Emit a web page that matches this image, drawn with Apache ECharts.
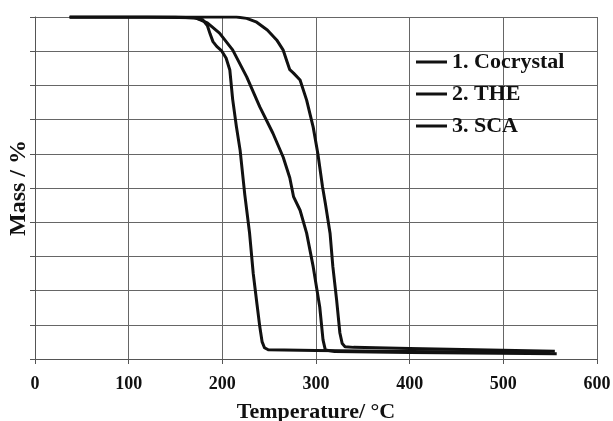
<!DOCTYPE html>
<html>
<head>
<meta charset="UTF-8">
<title></title>
</head>
<body style="margin:0;background:#fff;">
<div id="main" style="width:613px;height:421px;"></div>
<script src="https://cdn.jsdelivr.net/npm/echarts@6/dist/echarts.min.js"></script>
<script>
// TGA curves, [temperature C, mass %]
var names = ['1. Cocrystal', '2. THE', '3. SCA'];
var cocrystal = [[37,100],[150,100],[172,99.7],[184,98.3],[197,95.3],[211,90.4],[226,82.5],[240,73.7],[254,66],[265,59],[272,53],[276,47.5],[283,43.5],[290,36.8],[297,27],[304,15.2],[307.5,5.6],[310,2.6],[320,2.2],[400,1.9],[557,1.5]];
var the = [[37,100],[215,100],[226,99.6],[236,98.6],[248,96.2],[258,93.3],[265,90.3],[269,87],[272,84.6],[276,83.6],[283,81.6],[290,75.7],[297,67.8],[302,60],[307,50.3],[310,45.5],[315,36.8],[318,27],[322,17.3],[325.5,7.6],[328,4.5],[331,3.6],[340,3.4],[400,3.1],[555,2.3]];
var sca = [[37,100],[120,100],[170,99.8],[179,99.2],[184,97.5],[187,95],[190,92.8],[194,91.4],[199,90.2],[204,88],[208,84.5],[211,76],[215,68],[219,61],[224,48],[229,37],[233,25],[237,16],[240,9.4],[242.5,5],[245,3.3],[249,2.7],[300,2.5],[400,2.2],[550,2.0]];
var xTicks = [0, 600, 100];

var font = '"Liberation Serif", "Times New Roman", serif';
var gridLine = {color: '#666', width: 1};

function curve(name, data) {
    return {
        name: name, type: 'line', data: data,
        showSymbol: false, symbol: 'none',
        lineStyle: {color: '#111', width: 3, join: 'round'},
        itemStyle: {color: '#111'}
    };
}

var chart = echarts.init(document.getElementById('main'));
chart.setOption({
    backgroundColor: '#fff',
    animation: false,
    grid: {left: 35, right: 16, top: 17, bottom: 62, outerBoundsMode: 'none'},
    legend: {
        orient: 'vertical',
        left: 411, top: 46,
        itemWidth: 31, itemHeight: 3, itemGap: 10,
        icon: 'rect',
        textStyle: {fontFamily: font, fontWeight: 'bold', fontSize: 22, color: '#111'},
        data: names
    },
    xAxis: {
        type: 'value', min: xTicks[0], max: xTicks[1], interval: xTicks[2],
        name: 'Temperature/ °C', nameLocation: 'middle', nameGap: 42,
        nameTextStyle: {fontFamily: font, fontWeight: 'bold', fontSize: 22, color: '#111'},
        axisLine: {lineStyle: {color: '#555'}},
        axisTick: {show: true, length: 5, lineStyle: {color: '#555'}},
        axisLabel: {fontFamily: font, fontWeight: 'bold', fontSize: 18, color: '#111', margin: 16},
        splitLine: {show: true, lineStyle: gridLine}
    },
    yAxis: {
        type: 'value', min: 0, max: 100, interval: 10,
        name: 'Mass / %', nameLocation: 'middle', nameGap: 4,
        nameTextStyle: {fontFamily: font, fontWeight: 'bold', fontSize: 24, color: '#111'},
        axisLine: {show: true, lineStyle: {color: '#555'}},
        axisTick: {show: true, length: 5, lineStyle: {color: '#555'}},
        axisLabel: {show: false},
        splitLine: {show: true, lineStyle: gridLine}
    },
    series: [curve(names[0], cocrystal), curve(names[1], the), curve(names[2], sca)]
});
</script>
</body>
</html>
